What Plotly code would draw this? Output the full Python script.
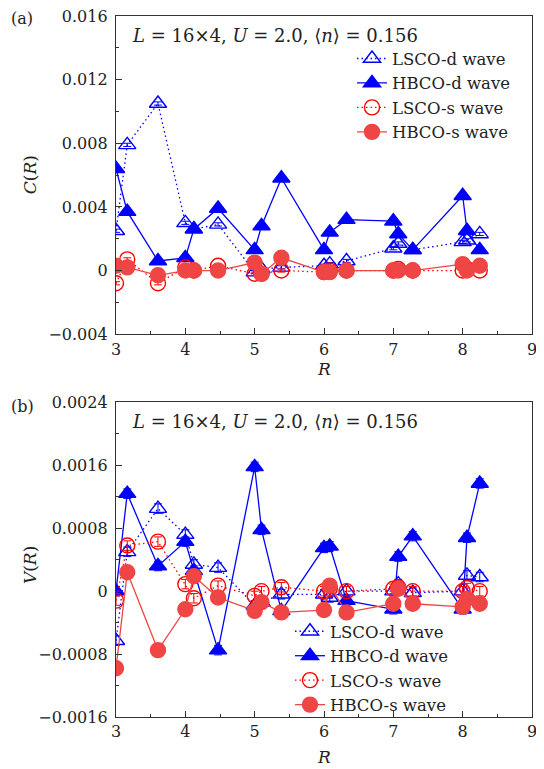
import plotly.graph_objects as go
import math

# Distances R on the 16x4 lattice
R = [3.0, math.sqrt(10), math.sqrt(13), 4.0, math.sqrt(17), math.sqrt(20), 5.0, math.sqrt(26),
     math.sqrt(29), 6.0, math.sqrt(37), math.sqrt(40), 7.0, math.sqrt(50), math.sqrt(53),
     8.0, math.sqrt(65), math.sqrt(68)]

# Panel (a): C(R)
C_lsco_d = [0.0025, 0.0079, 0.0105, 0.0030, 0.0026, 0.0029, -0.0001, 0.0001, 0.0002, 0.0003,
            0.0004, 0.0006, 0.0014, 0.0017, 0.0013, 0.0018, 0.0019, 0.0023]
C_hbco_d = [0.0064, 0.0037, 0.0006, 0.0008, 0.0026, 0.0039, 0.0013, 0.0028, 0.0058, 0.0013,
            0.0024, 0.0032, 0.0031, 0.0023, 0.0013, 0.0047, 0.0025, 0.0013]
C_lsco_s = [-0.0008, 0.0007, -0.0008, 0.0002, 0.0000, 0.0003, -0.0002, -0.0002, 0.0000, -0.0001,
            0.0000, 0.0000, 0.0000, 0.0001, 0.0000, 0.0000, 0.0001, 0.0000]
C_hbco_s = [0.0003, 0.0002, -0.0003, 0.0000, 0.0000, 0.0000, 0.0005, -0.0002, 0.0008, -0.0001,
            -0.0001, 0.0000, 0.0000, 0.0000, 0.0000, 0.0004, 0.0000, 0.0003]

# Panel (b): V(R)
V_lsco_d = [-0.00063, 0.00050, 0.00105, 0.00072, 0.00034, 0.00030, -0.00018, -0.00014, -0.00004,
            -0.00004, -0.00008, 0.00000, 0.00000, 0.00009, -0.00002, 0.00000, 0.00020, 0.00018]
V_hbco_d = [0.00000, 0.00124, 0.00032, 0.00063, 0.00026, -0.00075, 0.00158, 0.00078, -0.00025,
            0.00055, 0.00057, -0.00012, -0.00023, 0.00044, 0.00070, -0.00023, 0.00068, 0.00137]
V_lsco_s = [-0.00012, 0.00058, 0.00063, 0.00009, -0.00009, 0.00007, -0.00006, 0.00000, 0.00005,
            0.00000, 0.00003, 0.00000, 0.00003, 0.00005, 0.00000, 0.00000, 0.00004, 0.00000]
V_hbco_s = [-0.00098, 0.00024, -0.00075, -0.00023, 0.00019, -0.00008, -0.00025, -0.00014, -0.00027,
            -0.00024, 0.00007, -0.00027, -0.00016, 0.00003, -0.00016, -0.00020, -0.00010, -0.00016]

names = ["LSCO-d wave", "HBCO-d wave", "LSCO-s wave", "HBCO-s wave"]
err_a = 0.0001
err_b = 0.00006

BLUE = "#0000FF"
RED = "#FF0000"
PINK = "#F04545"
FONT = "DejaVu Serif"
DOT = "1.5px,3px"

styles = [
    dict(color=BLUE, symbol="triangle-up-open", dash=DOT, size=15),
    dict(color=BLUE, symbol="triangle-up", dash="solid", size=15),
    dict(color=RED, symbol="circle-open", dash=DOT, size=15),
    dict(color=PINK, symbol="circle", dash="solid", size=15),
]

fig = go.Figure()

def add_panel(series, err, xa, ya, legend):
    for name, ys, st in zip(names, series, styles):
        fig.add_trace(go.Scatter(
            x=R, y=ys, name=name, mode="lines+markers",
            xaxis=xa, yaxis=ya, legend=legend,
            line=dict(color=st["color"], width=1.3, dash=st["dash"]),
            marker=dict(symbol=st["symbol"], size=st["size"], color=st["color"],
                        line=dict(width=1.4, color=st["color"])),
            error_y=dict(type="constant", value=err, color=st["color"], thickness=1, width=4),
        ))

add_panel([C_lsco_d, C_hbco_d, C_lsco_s, C_hbco_s], err_a, "x", "y", "legend")
add_panel([V_lsco_d, V_hbco_d, V_lsco_s, V_hbco_s], err_b, "x2", "y2", "legend2")

# page body has an 8px margin; figure offset accordingly
OFF = 8
W, H = 544 - OFF, 769 - OFF
# plot area in window pixels
L_px, R_px, T_px, B_px = 116, 532, 15.7, 717
ml, mr, mt, mb = L_px - OFF, W - (R_px - OFF), T_px - OFF, H - (B_px - OFF)
pw, ph = W - ml - mr, H - mt - mb

def px_x(x):
    return (x - OFF - ml) / pw

def px_y(y):
    return (H - mb - (y - OFF)) / ph

xcommon = dict(range=[3, 9], tickvals=[3, 4, 5, 6, 7, 8, 9], ticks="inside", ticklen=6,
               tickwidth=1.2, tickcolor="#333", showline=True, mirror=True, linecolor="#333",
               linewidth=1.3, showgrid=False, zeroline=False,
               minor=dict(ticks="inside", ticklen=3, dtick=0.5, tickcolor="#333", tickwidth=1.2),
               tickfont=dict(family=FONT, size=16, color="#222"))

ycommon = dict(ticks="inside", ticklen=6, tickwidth=1.2, tickcolor="#333", showline=True,
               mirror=True, linecolor="#333", linewidth=1.3, showgrid=False, zeroline=False,
               tickfont=dict(family=FONT, size=16, color="#222"), ticklabelstandoff=4,
               ticklabeloverflow="allow")

ya_vals = [-0.004, 0, 0.004, 0.008, 0.012, 0.016]
ya_text = ["\u22120.004", "0", "0.004", "0.008", "0.012", "0.016"]
yb_vals = [-0.0016, -0.0008, 0, 0.0008, 0.0016, 0.0024]
yb_text = ["\u22120.0016", "\u22120.0008", "0", "0.0008", "0.0016", "0.0024"]

top_a, bot_a = 15.7, 334
top_b, bot_b = 402.3, 717

fig.update_layout(
    width=W, height=H,
    margin=dict(l=ml, r=mr, t=mt, b=mb, autoexpand=False),
    paper_bgcolor="white", plot_bgcolor="white",
    font=dict(family=FONT, size=16, color="#222"),
    xaxis=dict(domain=[0, 1], anchor="y", **xcommon),
    yaxis=dict(domain=[px_y(bot_a), px_y(top_a)], anchor="x", range=[-0.004, 0.016],
               tickvals=ya_vals, ticktext=ya_text,
               minor=dict(ticks="inside", ticklen=3, dtick=0.002, tickcolor="#333", tickwidth=1.2),
               **ycommon),
    xaxis2=dict(domain=[0, 1], anchor="y2", **xcommon),
    yaxis2=dict(domain=[px_y(bot_b), px_y(top_b)], anchor="x2", range=[-0.0016, 0.0024],
                tickvals=yb_vals, ticktext=yb_text,
                minor=dict(ticks="inside", ticklen=3, dtick=0.0004, tickcolor="#333", tickwidth=1.2),
                **ycommon),
    legend=dict(x=px_x(352), y=px_y(41), xanchor="left", yanchor="top",
                bgcolor="rgba(0,0,0,0)", font=dict(family=FONT, size=16.5, color="#222"),
                tracegroupgap=0),
    legend2=dict(x=px_x(290), y=px_y(614), xanchor="left", yanchor="top",
                 bgcolor="rgba(0,0,0,0)", font=dict(family=FONT, size=16.5, color="#222"),
                 tracegroupgap=0),
    showlegend=True,
)

anns = [
    dict(text="(a)", x=px_x(22), y=px_y(18), xanchor="center", yanchor="middle", size=16),
    dict(text="(b)", x=px_x(22), y=px_y(406), xanchor="center", yanchor="middle", size=16),
    dict(text="<i>C</i>(<i>R</i>)", x=px_x(30), y=px_y(175), textangle=-90,
         xanchor="center", yanchor="middle", size=17),
    dict(text="<i>V</i>(<i>R</i>)", x=px_x(30), y=px_y(565), textangle=-90,
         xanchor="center", yanchor="middle", size=17),
    dict(text="<i>R</i>", x=px_x(324), y=px_y(369), xanchor="center", yanchor="middle", size=17),
    dict(text="<i>R</i>", x=px_x(324), y=px_y(757), xanchor="center", yanchor="middle", size=17),
    dict(text="<i>L</i> = 16\u00d74, <i>U</i> = 2.0, \u27e8<i>n</i>\u27e9 = 0.156",
         x=px_x(130), y=px_y(35), xanchor="left", yanchor="middle", size=18),
    dict(text="<i>L</i> = 16\u00d74, <i>U</i> = 2.0, \u27e8<i>n</i>\u27e9 = 0.156",
         x=px_x(130), y=px_y(421), xanchor="left", yanchor="middle", size=18),
]
for a in anns:
    size = a.pop("size")
    fig.add_annotation(xref="paper", yref="paper", showarrow=False,
                       font=dict(family=FONT, size=size, color="#222"), **a)

fig.write_html("out.html")
